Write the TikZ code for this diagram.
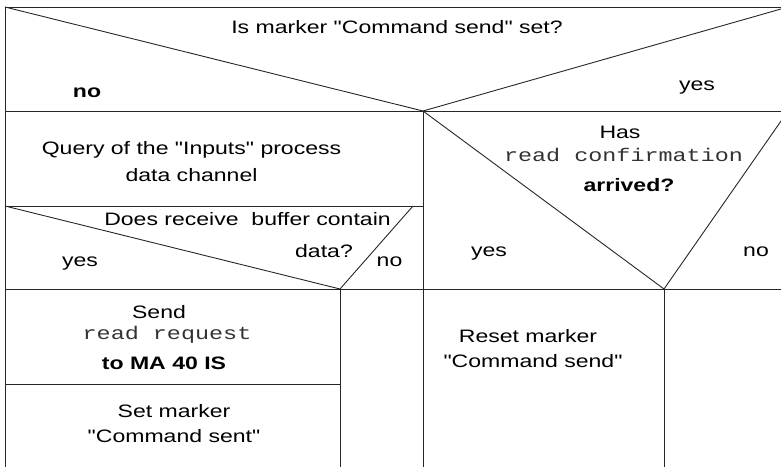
\documentclass[tikz,border=0pt]{standalone}
\usepackage{fontspec}
\setmainfont{Liberation Sans}[FakeStretch=1.28,Ligatures=TeXOff]
\newfontfamily\monofnt{Liberation Mono}[FakeStretch=1.28,Ligatures=TeXOff]
\begin{document}
\begin{tikzpicture}[x=1bp,y=-1bp,
  ln/.style={line width=0.9bp,draw=black!85},
  lbl/.style={anchor=base,inner sep=0pt,font=\fontsize{18bp}{22bp}\selectfont},
  mono/.style={anchor=base,inner sep=0pt,text=black!80,font=\fontsize{18.3bp}{22bp}\monofnt},
  bold/.style={lbl,font=\fontsize{18bp}{22bp}\selectfont\bfseries}]
\useasboundingbox (0,0) rectangle (781,467);
\clip (0,0) rectangle (781,467);
% frame and grid
\draw[ln] (5,7) -- (795,7);
\draw[ln] (5,7) -- (5,470);
\draw[ln] (5,111) -- (795,111);
\draw[ln] (5,7) -- (423,111) -- (788,7);
\draw[ln] (423,111) -- (423,470);
\draw[ln] (5,206) -- (423,206);
\draw[ln] (5,289) -- (795,289);
\draw[ln] (5,206) -- (340,289) -- (413,206);
\draw[ln] (340,289) -- (340,470);
\draw[ln] (5,384) -- (340,384);
\draw[ln] (423,111) -- (664,289) -- (788,111);
\draw[ln] (664,289) -- (664,470);
% texts
\node[lbl] (q1) at (397,34) {Is marker "Command send" set?};
\node[bold] (q1no) at (87,98) {no};
\node[lbl] (q1yes) at (697,91) {yes};
\node[lbl] (qry1) at (191.5,155) {Query of the "Inputs" process};
\node[lbl] (qry2) at (191.5,182) {data channel};
\node[lbl] (q2a) at (247.5,226) {Does receive\ \ buffer contain};
\node[lbl] (q2b) at (324,258) {data?};
\node[lbl] (q2yes) at (80,267) {yes};
\node[lbl] (q2no) at (389.5,267) {no};
\node[lbl] (q3a) at (620,139) {Has};
\node[mono] (q3b) at (623.5,162) {read confirmation};
\node[bold] (q3c) at (629,192) {arrived?};
\node[lbl] (q3yes) at (489,257) {yes};
\node[lbl] (q3no) at (756,257) {no};
\node[lbl] (s1) at (159,319) {Send};
\node[mono] (s2) at (167,340) {read request};
\node[bold] (s3) at (164,370) {to MA 40 IS};
\node[lbl] (m1) at (174,417) {Set marker};
\node[lbl] (m2) at (174,442) {"Command sent"};
\node[lbl] (r1) at (528,343) {Reset marker};
\node[lbl] (r2) at (533,368) {"Command send"};
\end{tikzpicture}
\end{document}
